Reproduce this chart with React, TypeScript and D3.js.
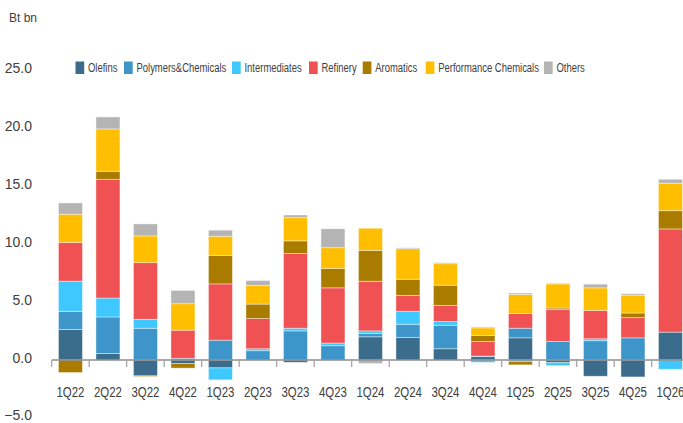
import React, { useEffect, useRef } from 'react';
import * as d3 from 'd3';

const categories = ['1Q22', '2Q22', '3Q22', '4Q22', '1Q23', '2Q23', '3Q23', '4Q23', '1Q24', '2Q24', '3Q24', '4Q24', '1Q25', '2Q25', '3Q25', '4Q25', '1Q26'];
const seriesNames = ['Olefins', 'Polymers&Chemicals', 'Intermediates', 'Refinery', 'Aromatics', 'Performance Chemicals', 'Others'];
const seriesColors = ['#3b6c8c', '#3d95c9', '#3ec8fd', '#f05152', '#a97c00', '#ffbe00', '#b4b4b4'];

// Bt bn per quarter
const olefins = [2.63, 0.57, -1.37, -0.3, -0.68, 0, -0.2, 0, 2.0, 1.94, 0.97, 0.29, 1.91, -0.23, -1.4, -1.46, 2.4];
const polymers = [1.57, 3.14, 2.74, 0.15, 1.71, 0.8, 2.51, 1.23, 0.28, 1.14, 2.03, 0.05, 0.83, 1.6, 1.66, 1.91, 0];
const intermediates = [2.6, 1.63, 0.77, 0, -1.03, 0.17, 0.23, 0.23, 0.23, 1.12, 0.31, -0.2, -0.12, -0.26, 0.17, 0, -0.8];
const refinery = [3.34, 10.24, 4.88, 2.42, 4.85, 2.6, 6.45, 4.76, 4.28, 1.37, 1.4, 1.26, 1.26, 2.74, 2.45, 1.74, 8.9];
const aromatics = [-1.08, 0.69, -0.05, -0.4, 2.46, 1.25, 1.08, 1.66, 2.66, 1.39, 1.74, 0.51, -0.3, 0.14, 0, 0.4, 1.57];
const perfChem = [2.43, 3.65, 2.31, 2.28, 1.65, 1.6, 2.0, 1.8, 1.91, 2.63, 1.85, 0.66, 1.65, 2.08, 1.94, 1.54, 2.37];
const others = [0.97, 1.03, 1.03, 1.15, 0.52, 0.43, 0.23, 1.63, -0.31, 0.08, 0.09, 0.08, 0.12, 0.06, 0.32, 0.12, 0.34];

const yTicks = [-5, 0, 5, 10, 15, 20, 25];

// no narrow font installed, so condensed text is squeezed with a scale transform
const font = "'Liberation Sans', Arial, sans-serif";

const App = () => {
    const svgRef = useRef(null);

    useEffect(() => {
        const svg = d3.select(svgRef.current);
        svg.selectAll('*').remove();

        const values = [olefins, polymers, intermediates, refinery, aromatics, perfChem, others];
        const rows = categories.map((c, i) => {
            const r: any = { cat: c };
            seriesNames.forEach((s, k) => { r[s] = values[k][i]; });
            return r;
        });

        const stack = d3.stack()
            .keys(seriesNames)
            .order(d3.stackOrderNone)
            .offset(d3.stackOffsetDiverging);
        const layers = stack(rows);

        const x0 = 51.7;
        const step = 37.5;
        const x = d3.scaleBand()
            .domain(categories)
            .range([x0, x0 + step * categories.length])
            .paddingInner(0.36)
            .paddingOuter(0.18);

        const y = d3.scaleLinear().domain([-5, 25]).range([418, 70]);

        // bars
        svg.append('g')
            .selectAll('g')
            .data(layers)
            .join('g')
            .attr('fill', (_, i) => seriesColors[i])
            .selectAll('rect')
            .data(d => d)
            .join('rect')
            .attr('x', (d: any) => x(d.data.cat))
            .attr('width', x.bandwidth())
            .attr('y', d => y(Math.max(d[0], d[1])))
            .attr('height', d => Math.abs(y(d[0]) - y(d[1])))
            .attr('stroke', '#fff')
            .attr('stroke-opacity', 0.5)
            .attr('stroke-width', 0.8);

        // x axis line + ticks
        const axisG = svg.append('g');
        axisG.append('line')
            .attr('x1', x.range()[0]).attr('x2', x.range()[1])
            .attr('y1', y(0)).attr('y2', y(0))
            .attr('stroke', '#8c8c8c').attr('stroke-width', 1.5);
        axisG.selectAll('line.tk')
            .data(d3.range(categories.length + 1))
            .join('line')
            .attr('class', 'tk')
            .attr('x1', i => x.range()[0] + i * x.step())
            .attr('x2', i => x.range()[0] + i * x.step())
            .attr('y1', y(0)).attr('y2', y(0) + 7)
            .attr('stroke', '#a0a0a0').attr('stroke-width', 1.2);
        axisG.selectAll('text')
            .data(categories)
            .join('text')
            .attr('transform', d => `translate(${(x(d) as number) + x.bandwidth() / 2},397) scale(0.74,1)`)
            .attr('text-anchor', 'middle')
            .attr('font-family', font)
            .attr('font-size', 15.5)
            .attr('fill', '#404040')
            .text(d => d);

        // y axis labels
        const yAxis = svg.append('g')
            .attr('transform', 'translate(32,0)')
            .call(d3.axisLeft(y).tickValues(yTicks).tickSize(0).tickPadding(0).tickFormat(d3.format('.1f')));
        yAxis.select('.domain').remove();
        yAxis.selectAll('text')
            .attr('font-family', font)
            .attr('font-size', 14)
            .attr('fill', '#404040')
            .attr('dy', (d: any) => (d === -5 ? '0.1em' : '0.18em'));

        svg.append('text')
            .attr('x', 9).attr('y', 21.5)
            .attr('font-family', font)
            .attr('font-size', 12)
            .attr('fill', '#404040')
            .text('Bt bn');

        // legend
        const legendX = [75.5, 124, 232, 309, 362.7, 425.7, 544];
        const lg = svg.append('g');
        seriesNames.forEach((s, i) => {
            lg.append('rect')
                .attr('x', legendX[i]).attr('y', 61.5)
                .attr('width', 8.7).attr('height', 12.5)
                .attr('fill', seriesColors[i]);
            lg.append('text')
                .attr('transform', `translate(${legendX[i] + 12.5},72) scale(0.7,1)`)
                .attr('font-family', font)
                .attr('font-size', 13.5)
                .attr('fill', '#404040')
                .text(s);
        });
    }, []);

    return (
        <svg ref={svgRef} width={683} height={423} style={{ position: 'absolute', left: 0, top: 0, background: '#fff' }} />
    );
};

export default App;
